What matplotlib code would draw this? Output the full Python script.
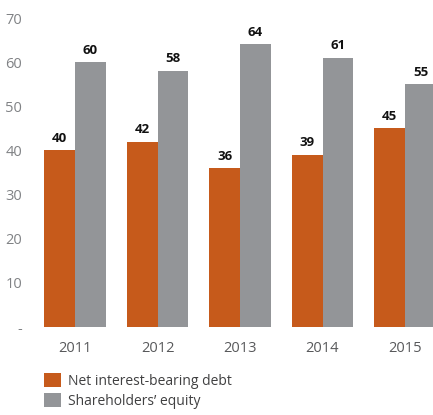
import numpy as np
import matplotlib.pyplot as plt

years = ['2011', '2012', '2013', '2014', '2015']
debt = [40, 42, 36, 39, 45]
equity = [60, 58, 64, 61, 55]
yticks = [0, 10, 20, 30, 40, 50, 60, 70]
yticklabels = ['-', '10', '20', '30', '40', '50', '60', '70']

orange = '#c65a1b'
grey = '#939598'
txt = '#6d6e71'

plt.rcParams['font.family'] = ['Open Sans', 'DejaVu Sans']

W, H = 433, 415
fig = plt.figure(figsize=(W / 100, H / 100), dpi=100)
ax = fig.add_axes([40 / W, (H - 327) / H, (W - 40) / W, (327 - 18) / H])

x = np.arange(len(years))
w = 0.375
b1 = ax.bar(x - w / 2, debt, w, color=orange, label='Net interest-bearing debt')
b2 = ax.bar(x + w / 2, equity, w, color=grey, label='Shareholders\u2019 equity')

for bars, vals in [(b1, debt), (b2, equity)]:
    for r, v in zip(bars, vals):
        ax.annotate(str(v), (r.get_x() + r.get_width() / 2, v), xytext=(0, 4),
                    textcoords='offset points', ha='center', va='bottom',
                    fontsize=9.5, fontweight='bold', color='#111111')

ax.set_xlim((40 - 75) / 82.5, (433 - 75) / 82.5)
ax.set_ylim(0, 70)
ax.set_yticks(yticks)
ax.set_yticklabels(yticklabels)
ax.set_xticks(x)
ax.set_xticklabels(years, color='#58595b')
ax.tick_params(axis='both', length=0, labelsize=10.5)
ax.tick_params(axis='y', pad=13, colors='#808285')
ax.tick_params(axis='x', pad=10)
for s in ax.spines.values():
    s.set_visible(False)

fig.legend(handles=[b1, b2], loc='upper left', bbox_to_anchor=(44 / W, (H - 373) / H),
           frameon=False, fontsize=10, handlelength=1.2, handleheight=1.2,
           handletextpad=0.5, labelspacing=0.3, borderpad=0, borderaxespad=0,
           labelcolor='#404041')

fig.savefig('out.png', dpi=100)
